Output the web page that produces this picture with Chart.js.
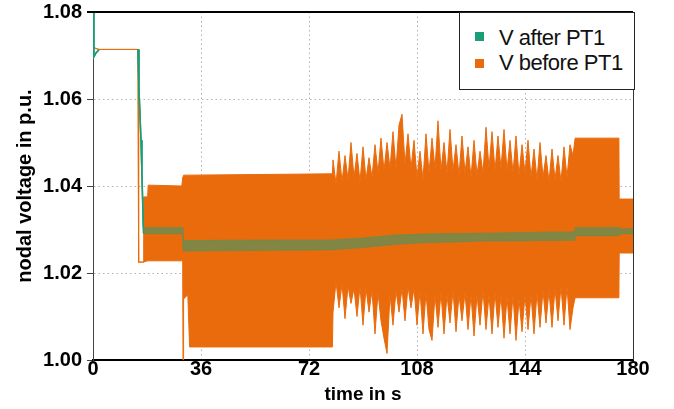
<!DOCTYPE html>
<html lang="en">
<head>
<meta charset="UTF-8">
<title>nodal voltage</title>
<style>
  body { margin: 0; background: #fff; }
  #wrap { position: relative; width: 674px; height: 409px; }
  #legend {
    position: absolute; left: 459px; top: 12px; width: 174px; height: 76px;
    border: 1px solid #222; background: #fff;
    font-family: 'Liberation Sans', Arial, sans-serif; font-size: 22px;
    letter-spacing: -0.5px; color: #111;
  }
  #legend .sw { position: absolute; left: 15px; width: 9px; height: 9px; }
  #legend .txt { position: absolute; left: 39px; line-height: 22px; white-space: nowrap; }
</style>
</head>
<body>
<div id="wrap">
  <canvas id="myChart" width="674" height="409"></canvas>
  <div id="legend">
    <span class="sw" style="top:19px;background:#1b9e77"></span><span class="txt" style="top:14px">V after PT1</span>
    <span class="sw" style="top:46px;background:#e96b0c"></span><span class="txt" style="top:39px">V before PT1</span>
  </div>
</div>

<script src="https://cdn.jsdelivr.net/npm/chart.js"></script>
<script>
  // time in s, V before PT1 (upper / lower envelope of the oscillation)
  const timeBefore = [0, 0.4, 1, 2, 15, 15.2, 16.7, 16.9, 18.2, 18.4, 29.6, 29.9, 30.0, 30.2, 31.6, 32.2, 79.8,
    80, 81, 82, 83, 84, 85, 86, 87, 88, 89,
    90, 91, 92, 93, 94, 95, 96, 97, 98, 99,
    100, 101, 102, 103, 104, 105, 106, 107, 108, 109,
    110, 111, 112, 113, 114, 115, 116, 117, 118, 119,
    120, 121, 122, 123, 124, 125, 126, 127, 128, 129,
    130, 131, 132, 133, 134, 135, 136, 137, 138, 139,
    140, 141, 142, 143, 144, 145, 146, 147, 148, 149,
    150, 151, 152, 153, 154, 155, 156, 157, 158, 159,
    160, 160.7, 175.3, 175.4, 180];
  const beforeHigh = [1.0713, 1.0718, 1.0716, 1.0714, 1.0714, 1.0225, 1.0225, 1.0375, 1.0375, 1.0402, 1.0400, 1.0420, 1.0422, 1.0425, 1.0425, 1.0425, 1.0428,
    1.0460, 1.0405, 1.0480, 1.0410, 1.0470, 1.0415, 1.0500, 1.0420, 1.0475, 1.0410,
    1.0490, 1.0415, 1.0465, 1.0420, 1.0495, 1.0430, 1.0510, 1.0435, 1.0500, 1.0440,
    1.0525, 1.0440, 1.0540, 1.0565, 1.0450, 1.0520, 1.0440, 1.0505, 1.0420, 1.0480,
    1.0415, 1.0520, 1.0430, 1.0510, 1.0440, 1.0550, 1.0435, 1.0500, 1.0430, 1.0530,
    1.0435, 1.0495, 1.0425, 1.0515, 1.0430, 1.0490, 1.0420, 1.0505, 1.0425, 1.0480,
    1.0430, 1.0535, 1.0440, 1.0525, 1.0435, 1.0515, 1.0440, 1.0530, 1.0435, 1.0505,
    1.0430, 1.0515, 1.0425, 1.0495, 1.0430, 1.0505, 1.0420, 1.0485, 1.0415, 1.0500,
    1.0420, 1.0470, 1.0410, 1.0485, 1.0415, 1.0470, 1.0410, 1.0490, 1.0420, 1.0495,
    1.0470, 1.0510, 1.0510, 1.0370, 1.0370];
  const beforeLow = [1.0713, 1.0718, 1.0716, 1.0714, 1.0714, 1.0225, 1.0225, 1.0225, 1.0228, 1.0228, 1.0228, 1.0228, 1.0000, 1.0140, 1.0150, 1.0030, 1.0030,
    1.0110, 1.0180, 1.0120, 1.0175, 1.0095, 1.0170, 1.0130, 1.0165, 1.0100, 1.0170,
    1.0080, 1.0165, 1.0110, 1.0160, 1.0060, 1.0155, 1.0090, 1.0050, 1.0015, 1.0150,
    1.0080, 1.0160, 1.0110, 1.0165, 1.0090, 1.0170, 1.0120, 1.0165, 1.0080, 1.0160,
    1.0060, 1.0155, 1.0070, 1.0045, 1.0150, 1.0075, 1.0155, 1.0060, 1.0150, 1.0085,
    1.0160, 1.0065, 1.0150, 1.0090, 1.0155, 1.0070, 1.0150, 1.0055, 1.0150, 1.0080,
    1.0160, 1.0070, 1.0150, 1.0060, 1.0155, 1.0075, 1.0150, 1.0050, 1.0145, 1.0060,
    1.0150, 1.0045, 1.0140, 1.0065, 1.0150, 1.0070, 1.0150, 1.0060, 1.0155, 1.0075,
    1.0160, 1.0085, 1.0160, 1.0075, 1.0165, 1.0090, 1.0170, 1.0080, 1.0170, 1.0070,
    1.0120, 1.0143, 1.0143, 1.0246, 1.0246];

  // V after PT1 (narrow oscillation band)
  const timeAfter = [0, 0.3, 1, 2, 15, 15.3, 15.6, 16.0, 16.3, 16.8, 29.9, 30.1, 80, 90, 100, 110, 120, 130, 140, 150, 160.5, 160.8, 175.3, 175.5, 180];
  const afterHigh = [1.0800, 1.0697, 1.0706, 1.0713, 1.0714, 1.0625, 1.0575, 1.0505, 1.0430, 1.0304, 1.0304, 1.0274, 1.0276, 1.0280, 1.0286, 1.0289, 1.0290, 1.0291, 1.0292, 1.0293, 1.0294, 1.0304, 1.0304, 1.0301, 1.0301];
  const afterLow = [1.0800, 1.0697, 1.0706, 1.0713, 1.0714, 1.0625, 1.0575, 1.0505, 1.0430, 1.0291, 1.0291, 1.0251, 1.0254, 1.0259, 1.0266, 1.0270, 1.0272, 1.0274, 1.0274, 1.0275, 1.0276, 1.0286, 1.0286, 1.0291, 1.0291];

  const xTicks = [0, 36, 72, 108, 144, 180];
  const yTicks = [1.00, 1.02, 1.04, 1.06, 1.08];

  const TEAL = '#1b9e77';
  const OLIVE = 'rgba(120,136,72,0.9)';
  const ORANGE = '#e96b0c';
  const FONT = "'Liberation Sans', Arial, sans-serif";

  const toPts = (t, v) => t.map((x, i) => ({ x: x, y: v[i] }));

  // teal where visible, hidden under the flat orange line, olive inside the orange band
  const greenSeg = c => {
    const x0 = c.p0.parsed.x;
    if (x0 >= 16.8) return OLIVE;
    if (x0 >= 2 && c.p1.parsed.x <= 15) return 'rgba(0,0,0,0)';
    return TEAL;
  };

  const edgeClear = c => (c.index === 0 || c.index === c.scale.ticks.length - 1) ? 'rgba(0,0,0,0)' : 'rgba(170,170,170,0.9)';

  const frame = {
    id: 'frame',
    afterDraw(chart) {
      const { ctx, chartArea: a } = chart;
      ctx.save();
      ctx.strokeStyle = '#000';
      ctx.lineWidth = 2;
      ctx.beginPath();
      ctx.moveTo(87, a.top);
      ctx.lineTo(a.right, a.top);
      ctx.stroke();
      ctx.strokeStyle = '#333';
      ctx.lineWidth = 1;
      ctx.beginPath();
      ctx.moveTo(a.right + 0.5, a.top);
      ctx.lineTo(a.right + 0.5, a.bottom);
      ctx.stroke();
      ctx.restore();
    }
  };

  const ctx = document.getElementById('myChart').getContext('2d');
  new Chart(ctx, {
    type: 'line',
    data: {
      datasets: [
        {
          label: 'V after PT1',
          data: toPts(timeAfter, afterHigh),
          borderColor: TEAL, backgroundColor: OLIVE, borderWidth: 1.5,
          segment: { borderColor: greenSeg },
          fill: '+1'
        },
        {
          label: 'after low',
          data: toPts(timeAfter, afterLow),
          borderColor: TEAL, borderWidth: 1.5,
          segment: { borderColor: greenSeg },
          fill: false
        },
        {
          label: 'V before PT1',
          data: toPts(timeBefore, beforeHigh),
          borderColor: ORANGE, backgroundColor: ORANGE, borderWidth: 1,
          fill: '+1'
        },
        {
          label: 'before low',
          data: toPts(timeBefore, beforeLow),
          borderColor: ORANGE, borderWidth: 1,
          fill: false
        }
      ]
    },
    options: {
      responsive: false,
      animation: false,
      layout: { padding: { left: 0, top: 12, right: 41, bottom: 0 } },
      elements: { point: { radius: 0 }, line: { tension: 0 } },
      plugins: { legend: { display: false }, tooltip: { enabled: false } },
      scales: {
        x: {
          type: 'linear', min: 0, max: 180, z: 1,
          afterBuildTicks: s => { s.ticks = xTicks.map(v => ({ value: v })); },
          afterFit: s => { s.height = 49; s.paddingLeft = 0; s.paddingRight = 0; },
          grid: { color: edgeClear, lineWidth: 1, drawTicks: false },
          border: { display: true, color: '#000', width: 2, dash: [1.5, 3] },
          ticks: { color: '#000', padding: -3, font: { family: FONT, size: 20, weight: 'bold' }, maxRotation: 0 },
          title: { display: true, text: 'time in s', color: '#000', padding: { top: 0, bottom: 3 },
                   font: { family: FONT, size: 19, weight: 'bold' } }
        },
        y: {
          min: 1.0, max: 1.08, z: 1,
          afterBuildTicks: s => { s.ticks = yTicks.map(v => ({ value: v })); },
          afterFit: s => { s.width = 93; s.paddingTop = 0; s.paddingBottom = 0; },
          grid: { color: edgeClear, lineWidth: 1, drawTicks: true, tickLength: 6, tickColor: '#444', tickBorderDash: [] },
          border: { display: true, color: '#444', width: 1, dash: [1.5, 3] },
          ticks: { color: '#000', padding: 5, font: { family: FONT, size: 20, weight: 'bold' },
                   callback: v => v.toFixed(2) },
          title: { display: true, text: 'nodal voltage in p.u.', color: '#000', padding: { top: 13, bottom: 0 },
                   font: { family: FONT, size: 20, weight: 'bold' } }
        }
      }
    },
    plugins: [frame]
  });
</script>
</body>
</html>
